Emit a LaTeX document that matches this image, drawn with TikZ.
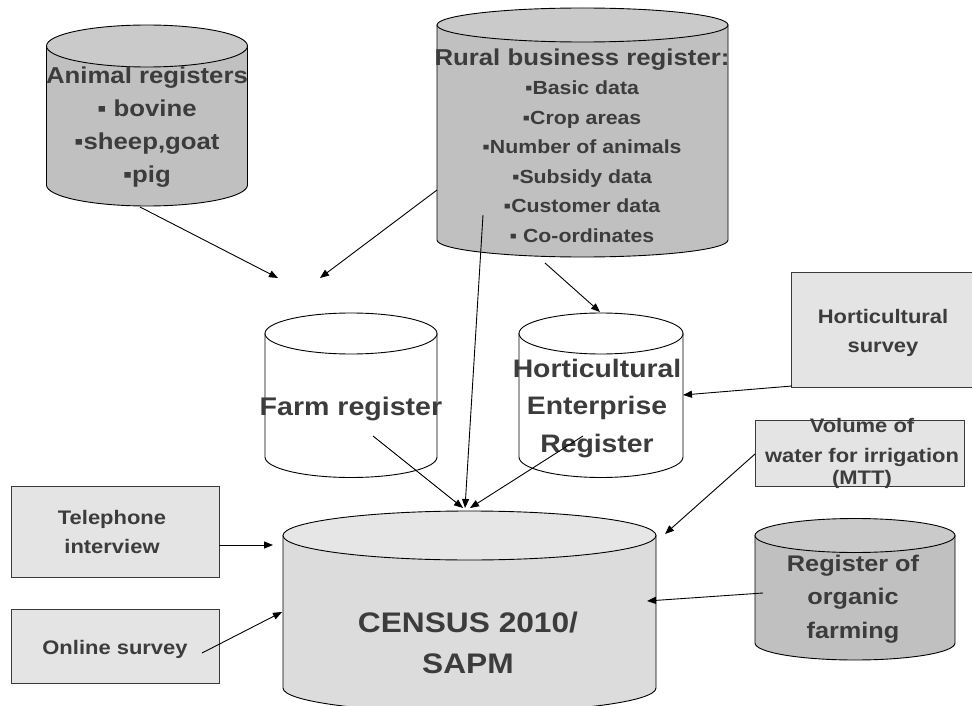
\documentclass[tikz,border=0pt]{standalone}
\usepackage{fontspec}
\newfontfamily\dgfont{Liberation Sans Bold}[FakeStretch=1.12]
\usetikzlibrary{arrows.meta}
\definecolor{txt}{HTML}{3C3C3C}
\definecolor{darkfill}{HTML}{C0C0C0}
\definecolor{darktop}{HTML}{CACACA}
\definecolor{censbody}{HTML}{DCDCDC}
\definecolor{censtop}{HTML}{E6E6E6}
\definecolor{boxfill}{HTML}{E4E4E4}
\definecolor{boxline}{HTML}{3A3A3A}
% cylinder: cx, y of top ellipse centre, y of bottom ellipse centre, rx, ry, body colour, top colour
\newcommand\dbcyl[7]{%
  \path[cylfill=#6] (#1-#4,#2) -- (#1-#4,#3) arc[start angle=180,end angle=0,x radius=#4,y radius=#5] -- (#1+#4,#2) -- cycle;
  \path[cylfill=#7] (#1,#2) ellipse[x radius=#4,y radius=#5];
}
\newcommand\fr{\rule{0pt}{40pt}}
\begin{document}
\begin{tikzpicture}[x=1pt,y=-1pt,
  cylfill/.style={fill=#1,draw=black,line width=0.9pt},
  boxnode/.style={rectangle,draw=boxline,fill=boxfill,line width=0.8pt,inner sep=0pt},
  lbl/.style={inner sep=0pt,anchor=north,align=center,text=txt},
  conn/.style={draw=black,line width=0.9pt,-{Triangle[length=9pt,width=7pt]}}]
\useasboundingbox (0,0) rectangle (972,706);
\fill[white] (0,0) rectangle (972,706);

% ---------- cylinders ----------
\dbcyl{147}{46}{185}{100.5}{21}{darkfill}{darktop}
\dbcyl{582.5}{25}{240}{145.5}{17}{darkfill}{darktop}
\dbcyl{351}{333.5}{457}{86}{20.5}{white}{white}
\dbcyl{601}{333.5}{457}{82}{20.5}{white}{white}
\dbcyl{469.5}{535.5}{688}{186.5}{24.5}{censbody}{censtop}
\dbcyl{855}{535.5}{643}{100}{17}{darkfill}{darktop}

% ---------- boxes ----------
\node[boxnode,minimum width=194pt,minimum height=115pt] (hsbox) at (888,329.5) {};
\node[boxnode,minimum width=209pt,minimum height=66pt] (volbox) at (859.5,453) {};
\node[boxnode,minimum width=208pt,minimum height=91pt] (telbox) at (115,531.5) {};
\node[boxnode,minimum width=208pt,minimum height=74pt] (onbox) at (115,646) {};

% ---------- labels ----------
\node[lbl,font={\dgfont\fontsize{23}{33}\selectfont}] (animal) at (147,43)
  {\fr Animal registers\\▪ bovine\\▪sheep,goat\\▪pig};
\node[lbl,font={\dgfont\fontsize{19}{29.5}\selectfont}] (rural) at (582,25)
  {\fr{\fontsize{23}{29.5}\selectfont Rural business register:}\\▪Basic data\\▪Crop areas\\▪Number of animals\\▪Subsidy data\\▪Customer data\\▪ Co-ordinates};
\node[lbl,font={\dgfont\fontsize{25.5}{37}\selectfont}] (farm) at (351,375)
  {\fr Farm register};
\node[lbl,font={\dgfont\fontsize{25.3}{37.5}\selectfont}] (hort) at (597,337)
  {\fr Horticultural\\Enterprise\\Register};
\node[lbl,font={\dgfont\fontsize{28.3}{41}\selectfont}] (census) at (468,592)
  {\fr CENSUS 2010/\\SAPM};
\node[lbl,font={\dgfont\fontsize{22.6}{33.5}\selectfont}] (organic) at (853,531)
  {\fr Register of\\organic\\farming};
\node[lbl,font={\dgfont\fontsize{19.6}{29}\selectfont}] (hsurvey) at (883,283)
  {\fr Horticultural\\survey};
\node[lbl,font={\dgfont\fontsize{19.6}{30}\selectfont}] (volume) at (862,392)
  {\fr Volume of\\water for irrigation\\[-8pt](MTT)};
\node[lbl,font={\dgfont\fontsize{19.6}{29}\selectfont}] (tel) at (112,484)
  {\fr Telephone\\interview};
\node[lbl,font={\dgfont\fontsize{19.6}{29}\selectfont}] (online) at (115,614)
  {\fr Online survey};

% ---------- connector end points ----------
\coordinate (animal-o) at (140,207);
\coordinate (farm-i1) at (278,278);
\coordinate (rural-o1) at (437,190);
\coordinate (farm-i2) at (320,278);
\coordinate (rural-o2) at (483,215);
\coordinate (census-i1) at (465,508);
\coordinate (rural-o3) at (545,263);
\coordinate (hort-i) at (600,312);
\coordinate (farm-o) at (373,436);
\coordinate (census-i2) at (463,508);
\coordinate (hort-o) at (583,436);
\coordinate (census-i3) at (470,508);
\coordinate (hs-o) at (792,386);
\coordinate (hort-i2) at (683,395);
\coordinate (vol-o) at (755,454);
\coordinate (census-i4) at (665,534);
\coordinate (org-o) at (763,593);
\coordinate (census-i5) at (647,601);
\coordinate (tel-o) at (219,545);
\coordinate (census-i6) at (273,545);
\coordinate (online-o) at (202,653);
\coordinate (census-i7) at (282,612);

% ---------- connectors ----------
\draw[conn] (animal-o) -- (farm-i1);
\draw[conn] (rural-o1) -- (farm-i2);
\draw[conn] (rural-o2) -- (census-i1);
\draw[conn] (rural-o3) -- (hort-i);
\draw[conn] (farm-o) -- (census-i2);
\draw[conn] (hort-o) -- (census-i3);
\draw[conn] (hs-o) -- (hort-i2);
\draw[conn] (vol-o) -- (census-i4);
\draw[conn] (org-o) -- (census-i5);
\draw[conn] (tel-o) -- (census-i6);
\draw[conn] (online-o) -- (census-i7);
\end{tikzpicture}
\end{document}
